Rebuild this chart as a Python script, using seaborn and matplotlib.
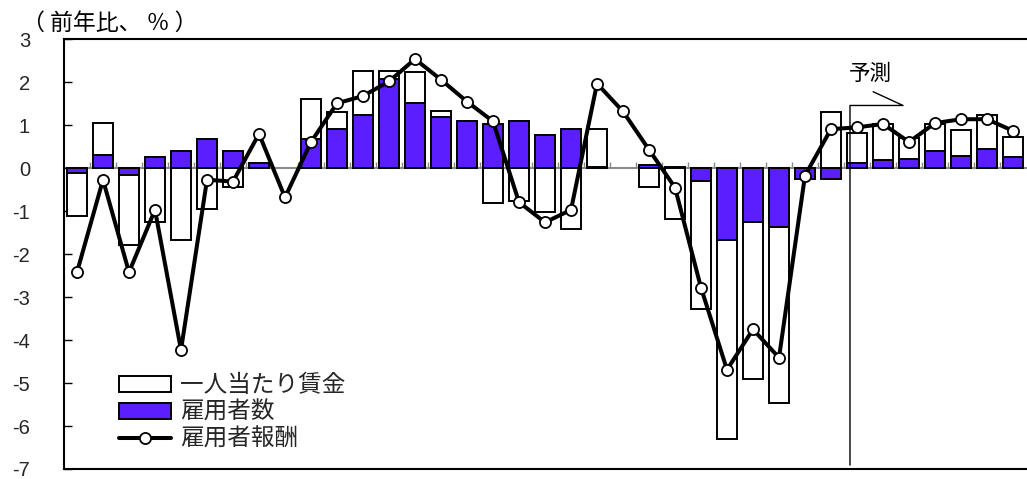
import numpy as np
import pandas as pd
import matplotlib
matplotlib.use("Agg")
import matplotlib.pyplot as plt
import seaborn as sns
from matplotlib.patches import Patch
from matplotlib.lines import Line2D

# Year-on-year change (%) and contributions, quarterly
employees = [-0.10, 0.30, -0.15, 0.26, 0.40, 0.68, 0.40, 0.13, 0.00, 0.68,
             0.92, 1.24, 2.08, 1.51, 1.19, 1.11, 1.02, 1.11, 0.78, 0.92,
             0.02, 0.00, 0.08, 0.03, -0.29, -1.68, -1.26, -1.37, -0.25, -0.25,
             0.12, 0.18, 0.21, 0.40, 0.29, 0.45, 0.27]
wage_per_head = [-1.02, 0.76, -1.63, -1.26, -1.68, -0.95, -0.43, 0.00, 0.00, 0.93,
                 0.38, 1.03, 0.19, 0.72, 0.14, 0.00, -0.81, -0.76, -1.03, -1.41,
                 0.90, 0.00, -0.44, -1.18, -2.98, -4.63, -3.64, -4.10, 0.00, 1.30,
                 0.71, 0.84, 0.49, 0.62, 0.59, 0.79, 0.45]
compensation = [-2.42, -0.27, -2.42, -0.97, -4.23, -0.27, -0.31, 0.80, -0.68, 0.61,
                1.51, 1.68, 2.02, 2.54, 2.06, 1.55, 1.09, -0.79, -1.26, -0.97,
                1.97, 1.32, 0.43, -0.45, -2.78, -4.69, -3.75, -4.41, -0.17, 0.91,
                0.95, 1.03, 0.61, 1.05, 1.14, 1.14, 0.87]
forecast_start = 30  # first forecast quarter

series_labels = ["一人当たり賃金", "雇用者数", "雇用者報酬"]
y_ticks = [3, 2, 1, 0, -1, -2, -3, -4, -5, -6, -7]
y_tick_labels = ["3", "2", "1", "0", "-1", "-2", "-3", "-4", "-5", "-6", "-7"]
unit_label = "（ 前年比、 ％ ）"
forecast_label = "予測"

PURPLE = "#5A1EFF"
CJK = ["Noto Sans CJK JP", "DejaVu Sans"]

sns.set_theme(style="white")
plt.rcParams["font.family"] = ["Liberation Sans", "Noto Sans CJK JP", "DejaVu Sans"]

n = len(employees)
period = np.arange(n)
emp = np.array(employees)
wage = np.array(wage_per_head)
# wage bars stack on the employee bars when both move the same way
wage_base = np.where(emp * wage > 0, emp, 0.0)

df = pd.DataFrame({"period": period, "employees": emp, "wage": wage,
                   "wage_base": wage_base, "compensation": compensation})

W, H = 1027, 479
fig = plt.figure(figsize=(W / 100, H / 100), dpi=100)
ax = fig.add_axes([64 / W, 10 / H, 962 / W, 429.7 / H])

bar_kw = dict(width=0.77, edgecolor="black", linewidth=1.4, saturation=1,
              errorbar=None, ax=ax, zorder=2)
sns.barplot(data=df, x="period", y="employees", color=PURPLE, **bar_kw)
sns.barplot(data=df, x="period", y="wage", color="white",
            bottom=df["wage_base"].to_numpy(), **bar_kw)
for p in ax.patches:
    if p.get_height() == 0:
        p.set_visible(False)

sns.lineplot(data=df, x="period", y="compensation", ax=ax, color="black",
             linewidth=2.9, marker="o", markersize=8, markerfacecolor="white",
             markeredgecolor="black", markeredgewidth=1.3, zorder=5, legend=False)

ax.set_xlim(-0.5, n - 0.5)
ax.set_ylim(-7, 3)
ax.set_xticks([])
ax.set_xlabel("")
ax.set_ylabel("")
ax.set_yticks(y_ticks)
ax.set_yticklabels(y_tick_labels)
ax.tick_params(axis="y", direction="in", length=6, width=1, color="black",
               pad=24.5, labelsize=14.5, left=True)
for side in ("left", "top", "bottom"):
    ax.spines[side].set_visible(True)
    ax.spines[side].set_color("black")
    ax.spines[side].set_linewidth(1.5)
ax.spines["right"].set_visible(False)

# zero line with quarter separators, drawn behind the bars
zax = ax.twiny()
zax.set_xlim(ax.get_xlim())
zax.spines["bottom"].set_position(("data", 0))
for side in ("top", "left", "right"):
    zax.spines[side].set_visible(False)
zax.spines["bottom"].set_color("#8a8a8a")
zax.spines["bottom"].set_linewidth(1.5)
zax.xaxis.set_ticks_position("bottom")
zax.set_xticks(np.arange(n - 1) + 0.5)
zax.tick_params(axis="x", direction="in", length=4.5, width=1, color="#8a8a8a",
                labelbottom=False, labeltop=False)
zax.set_zorder(ax.get_zorder() - 1)
ax.patch.set_visible(False)

# forecast divider and bracket
x_div = forecast_start - 0.27
ax.plot([x_div, x_div, forecast_start + 1.77, forecast_start + 0.62],
        [-6.91, 1.46, 1.46, 1.78], color="black", linewidth=1.0, zorder=4)
ax.text(forecast_start + 0.5, 2.2, forecast_label, ha="center", va="center",
        fontsize=15.5, color="black", family=CJK)

fig.text(22 / W, 1 - 23 / H, unit_label, ha="left", va="center", fontsize=16.5,
         color="black", family=CJK)

handles = [
    Patch(facecolor="white", edgecolor="black", linewidth=1.4),
    Patch(facecolor=PURPLE, edgecolor="black", linewidth=1.4),
    Line2D([], [], color="black", linewidth=2.9, marker="o", markersize=8,
           markerfacecolor="white", markeredgecolor="black", markeredgewidth=1.3),
]
fig.legend(handles, series_labels, loc="upper left",
           bbox_to_anchor=(119 / W, 1 - 374 / H), frameon=False,
           prop={"family": CJK, "size": 17},
           handlelength=2.2, handleheight=0.68, handletextpad=0.4,
           labelspacing=0.17, borderpad=0, borderaxespad=0)

fig.savefig("out.png", dpi=100)
